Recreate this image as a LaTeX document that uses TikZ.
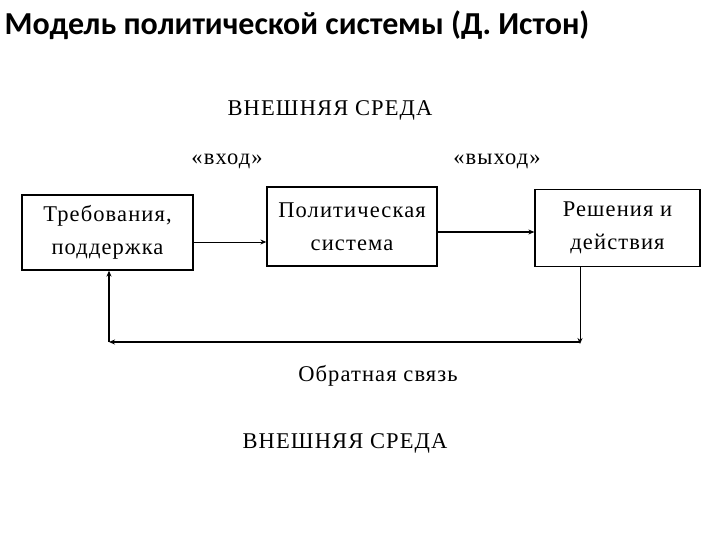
\documentclass[tikz,border=0pt]{standalone}
\usepackage{fontspec}
\setmainfont{Liberation Serif}[LetterSpace=5]
\newfontfamily\titlefont{Carlito}
\usetikzlibrary{arrows.meta,positioning,calc}
\tikzset{
  blok/.style={rectangle, draw=black, line width=1.3pt,
    minimum width=#1, inner sep=0pt, align=center,
    font=\fontsize{22.5}{33}\selectfont},
  arr/.style={-{Stealth[length=6pt,width=5pt]}, line width=1pt},
  fb/.style={line width=1.8pt},
  lbl/.style={font=\fontsize{22.5}{25}\selectfont}
}
\begin{document}
\begin{tikzpicture}[x=1pt,y=-1pt]
  \useasboundingbox (0,0) rectangle (720,540);
  \node[anchor=west, font=\titlefont\bfseries\fontsize{32}{36}\selectfont]
    (title) at (1,25) {Модель политической системы (Д. Истон)};

  \node[lbl] (envtop) at (330,110) {ВНЕШНЯЯ СРЕДА};
  \node[lbl] (inp) at (227,161) {«вход»};
  \node[lbl] (outp) at (497,161) {«выход»};

  \node[blok=171pt, minimum height=75pt] (demand) at (107.5,232.5)
    {Требования,\\поддержка};
  \node[blok=170pt, minimum height=79pt] (polsys) at (352,226.5)
    {Политическая\\система};
  \node[blok=165pt, minimum height=77pt] (decis) at (617.5,228)
    {Решения и\\действия};

  \draw[arr] (demand.east |- 0,242) -- (polsys.west |- 0,242);
  \draw[arr] (polsys.east |- 0,232) -- (decis.west |- 0,232);

  % feedback loop
  \coordinate (fbR) at (580,342);
  \coordinate (fbL) at (109,342);
  \draw[arr] (decis.south -| fbR) -- ([yshift=-2pt]fbR);
  \draw[arr, fb] (fbR) -- (fbL);
  \draw[arr, fb] (fbL) -- (demand.south -| fbL);

  \node[lbl] (fbtext) at (378,376) {Обратная связь};
  \node[lbl] (envbot) at (345,443) {ВНЕШНЯЯ СРЕДА};
\end{tikzpicture}
\end{document}
